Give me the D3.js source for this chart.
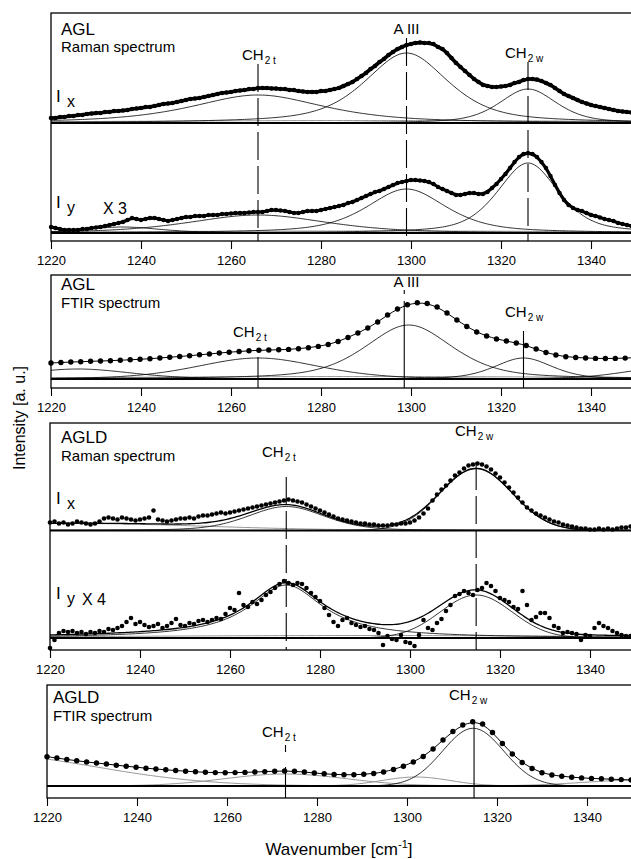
<!DOCTYPE html>
<html><head><meta charset="utf-8">
<script src="https://cdn.jsdelivr.net/npm/d3@7"></script>
<style>
body{margin:0;background:#fff}
svg{display:block}
text{font-family:"Liberation Sans",Arial,sans-serif;fill:#000}
</style>
</head><body>
<svg id="c" width="631" height="859"></svg>
<script>
// ---------------- DATA ----------------
const tickValues = [1220, 1240, 1260, 1280, 1300, 1320, 1340];
const xDomain = [1220, 1350];
const ramanStart = 1220, ramanStep = 1;     // Raman sampling (cm-1)
const ftirStart = 1220, ftirStep = 2.2;     // FTIR sampling (cm-1)

// AGL Raman, I_x
const aglRamanIx = [5,5,6,6,7,7,8,8,9,9.5,
10,10,11,11,12,12,12.5,13,14,14.5,
15,16,16,17,18,19,19.5,20,21,22,
23,24,24.5,25,26,27,28,29,30,30.5,
31,32,32.5,33,34,34,35,35,35,34.5,
34.5,34,34,33,33,32,31.5,31,31,31,
32,32,33,34,35,37,39,41,44,47,
50,54,57,61,64,68,71,74,76,78,
79,80,80.5,80,80,79,76,74,70,65,
60,56,52,48,44,41,38,37,36,36,
36.5,37,38,40,41,43,44,44,43.5,42,
40,38,35,32,29,27,25,23,21,19.5,
18,17,16,15,14,13,12,11.5,11,10.5,
10];
// AGL Raman, I_y (x3)
const aglRamanIy = [6,5,4,3,3,3,3,4,4,5,
5.5,6,7,8,9,10,11,13,15,14,
13,14,15,15,14,13,12,13,14,15,
16,16,17,17,17,18,18,18,19,19,
19.5,20,20,20,20.5,21,21,21,22,23,
23,22.5,22,21,20,20,21,22,22,22,
23,24,25,26,27,28,30,31,33,35,
37,39,41,42,44,46,48,50,51,52,
53,53,52.5,52,51,49,46,44,42,40,
38,38,39,40,40,39,39,41,45,49,
54,59,65,71,76,79,80,79,76,71,
65,57,48,40,33,28,25,23,22,20,
18,17,15.5,14,13,12,10,9,8,7,
6];
// AGL FTIR
const aglFtir = [16,16.5,17,17.3,17.7,18,18.3,18.8,19.2,19.7,
20.3,21,21.8,22.5,23.3,24.2,25,26,26.8,27.5,
28.2,28.7,29,29.2,29.6,30.3,31.3,32.6,34.5,37.5,
41.5,46,51,57,64,70,74.3,76.3,75.5,72,
66,59,52.5,47,43,40,38,36,33.5,30,
26.5,24,22.3,21.5,21,20.6,20.5,20.6,20.9,21.3];
// AGLD Raman, I_x
const agldRamanIx = [8,9,7,8,6,7,9,8,7,6,
7,9,12,13,12,11,13,12,11,10,
11,12,13,20,11,10,9,10,11,12,
12,13,12,14,15,15,16,17,18,17,
18,19,20,21,22,23,24,25,26,27,
28,29,30,31,30,29,28,26,24,22,
20,18,16,14,12,11,10,9,8,7,
7,6,6,5,5,5,6,6,7,7,
8,10,13,17,22,30,36,41,45,50,
55,58,62,65,66,67,66,64,61,57,
53,48,43,38,33,28,23,20,17,15,
13,11,9,8,6,5,4,3,2,2,
1,1,2,1,2,1,2,3,3,4,
5];
// AGLD Raman, I_y (x4)
const agldRamanIy = [-10,-2,5,7,6,7,5,6,4,6,
5,7,6,9,8,10,12,16,20,14,
16,13,11,12,14,10,12,15,19,13,
12,15,14,17,18,16,18,20,19,24,
30,28,45,33,31,36,34,38,43,46,
50,54,57,55,53,55,54,50,45,41,
37,30,23,16,12,18,20,15,13,11,
12,9,8,5,-7,2,-1,-2,3,-4,
-5,-8,3,18,10,8,15,19,27,33,
42,44,47,45,43,48,50,55,52,47,
40,38,36,31,29,47,33,18,21,25,
25,20,12,10,5,6,5,4,-2,3,
2,10,15,12,10,7,5,3,2,2,
1.6];
// AGLD FTIR
const agldFtir = [29.3,28,26.5,25.3,24,23,22,20.8,19.8,18.8,
17.8,17,16.2,15.5,14.8,14.2,13.7,13.4,13.3,13.4,
13.6,14,14.4,14.8,15,14.7,14,13,12.2,11.6,
11.2,11.2,11.7,12.5,14,16.5,19.8,24,29.5,37,
46,54.5,61,64.3,62,53.5,42.5,32,23.5,17.5,
13.3,11,9.7,8.8,8.1,7.6,7.2,6.8,6.4,6.1];

// fitted bands: [centre cm-1, height, half width, Lorentzian fraction]
const aglIxBands   = [[1266,28,17.5,0.7],[1299,70,11,0.6],[1326,34,7.5,0.5]];
const aglIxBack    = [[1290,2.5,70,0]];
const aglIyBands   = [[1236,6,10,0.5],[1266,18,18,0.5],[1299,44,10.5,0.6],[1326,70,8,0.5]];
const aglIyBack    = [[1290,2,70,0]];
const aglFtirBands = [[1226,10,14,0.3],[1266,21,16,0.3],[1299.5,54,11.5,0.5],[1325,21,7.5,0.4],[1358,12,12,0.3]];
const aglFtirBack  = [[1290,2.5,70,0]];
const agldIxBands  = [[1272.5,24,10,0.3],[1314.7,61.7,9.4,0]];
const agldIxBack   = [[1225,7,35,0]];
const agldIyBands  = [[1272.5,53,10,1],[1314.7,43,9.4,0]];
const agldIyBack   = [[1290,2.5,70,0]];
const agldFtirBands= [[1314.7,57.7,8,0]];
const agldFtirBack = [[1205,32,30,0],[1273,12,16,0],[1302,9,9,0],[1352,6,15,0]];

// band assignments (cm-1)
const aglMarks  = [1266, 1299, 1326];
const aglFtirMarks = [1266, 1298.5, 1325];
const agldMarks = [1272.5, 1314.7];
const agldFtirMarks = [1273, 1314.9];

// ---------------- DRAWING ----------------
const svg = d3.select("#c");
const FONT = '"Liberation Sans",Arial,sans-serif';
const band = (v, b) => { const u = (v - b[0]) / b[2]; return b[1] * (b[3] / (1 + u * u) + (1 - b[3]) * Math.exp(-Math.LN2 * u * u)); };
const fine = d3.range(xDomain[0], xDomain[1] + 0.01, 0.5);

function sub(g, x, s) {
  const y = d3.scaleLinear().domain([0, 100]).range([s.base, s.base - 100]);
  const pts = s.data.map((v, i) => [s.start + i * s.step, v]);
  const lineXY = d3.line().x(d => x(d[0])).y(d => y(d[1]));
  s.back.forEach(b => {
    g.append("path").attr("d", lineXY(fine.map(v => [v, band(v, b)])))
      .attr("fill", "none").attr("stroke", "#8a8a8a").attr("stroke-width", 0.9);
  });
  g.append("line").attr("x1", x(xDomain[0])).attr("x2", x(xDomain[1]) + 10)
    .attr("y1", y(0)).attr("y2", y(0)).attr("stroke", "#000").attr("stroke-width", 1.8);
  s.bands.forEach(b => {
    g.append("path").attr("d", lineXY(fine.map(v => [v, band(v, b)])))
      .attr("fill", "none").attr("stroke", "#000").attr("stroke-width", 0.8);
  });
  let fitPath;
  if (s.fit === "sum") {
    fitPath = lineXY(fine.map(v => [v, d3.sum(s.bands.concat(s.back), b => band(v, b))]));
  } else {
    fitPath = d3.line().x(d => x(d[0])).y(d => y(d[1])).curve(d3.curveBasis)(pts);
  }
  g.append("path").attr("d", fitPath).attr("fill", "none").attr("stroke", "#000").attr("stroke-width", s.fitW || 1);
  g.selectAll(null).data(pts).enter().append("circle")
    .attr("cx", d => x(d[0])).attr("cy", d => y(d[1])).attr("r", s.r).attr("fill", "#000");
}

function label(g, txt, xx, yy, size, opts = {}) {
  const t = g.append("text").attr("x", xx).attr("y", yy).attr("font-size", size)
    .attr("text-anchor", opts.anchor || "start").attr("font-family", opts.family || FONT);
  if (opts.weight) t.attr("font-weight", opts.weight);
  t.text(txt);
  return t;
}
function chLabel(g, xx, yy, subTxt) {
  const t = g.append("text").attr("x", xx).attr("y", yy).attr("font-size", 15).attr("font-family", FONT);
  t.append("tspan").text("CH");
  t.append("tspan").attr("font-size", 10).attr("dy", 4).attr("dx", 1).text(subTxt);
}
function intensityLabel(g, xx, yy, sub, factor) {
  g.append("text").attr("x", xx).attr("y", yy).attr("font-size", 17)
    .attr("font-family", '"Liberation Serif","Times New Roman",serif').text("I");
  const t = g.append("text").attr("x", xx + 11).attr("y", yy + 5).attr("font-size", 16).attr("font-family", FONT);
  t.text(sub);
  if (factor) g.append("text").attr("x", xx + factor.dx).attr("y", yy + 6).attr("font-size", 16)
    .attr("font-family", FONT).text(factor.t);
}

const panels = [
  { left: 51, top: 13, bottom: 241, dashed: true,
    subs: [
      { base: 123, start: ramanStart, step: ramanStep, data: aglRamanIx, bands: aglIxBands, back: aglIxBack, r: 2.3, fit: "dots", fitW: 3.6 },
      { base: 233, start: ramanStart, step: ramanStep, data: aglRamanIy, bands: aglIyBands, back: aglIyBack, r: 2.2, fit: "dots", fitW: 3.2 } ],
    marks: aglMarks.map((v, i) => ({ v, y1: [64, 38, 62][i] })) },
  { left: 51, top: 275, bottom: 388, dashed: false,
    subs: [ { base: 379, start: ftirStart, step: ftirStep, data: aglFtir, bands: aglFtirBands, back: aglFtirBack, r: 2.7, fit: "dots" } ],
    marks: aglFtirMarks.map((v, i) => ({ v, y1: [357, 301, 331][i] })) },
  { left: 50, top: 423, bottom: 650, dashed: true,
    subs: [
      { base: 530.5, start: ramanStart, step: ramanStep, data: agldRamanIx, bands: agldIxBands, back: agldIxBack, r: 2.3, fit: "sum", fitW: 1.3 },
      { base: 638, start: ramanStart, step: ramanStep, data: agldRamanIy, bands: agldIyBands, back: agldIyBack, r: 2.3, fit: "sum", fitW: 1.3 } ],
    marks: agldMarks.map((v, i) => ({ v, y1: [477, 462][i] })) },
  { left: 47, top: 685, bottom: 798, dashed: false,
    subs: [ { base: 786, start: ftirStart, step: ftirStep, data: agldFtir, bands: agldFtirBands, back: agldFtirBack, r: 2.7, fit: "dots" } ],
    marks: agldFtirMarks.map((v, i) => ({ v, y1: [767, 720][i] })) }
];

const xs = [];
panels.forEach(p => {
  const g = svg.append("g");
  const x = d3.scaleLinear().domain(xDomain).range([p.left, p.left + 4.5 * (xDomain[1] - xDomain[0])]);
  xs.push(x);
  p.subs.forEach(s => sub(g, x, s));
  g.append("rect").attr("x", p.left).attr("y", p.top).attr("width", 700).attr("height", p.bottom - p.top)
    .attr("fill", "none").attr("stroke", "#000").attr("stroke-width", 1.3);
  p.marks.forEach(m => {
    g.append("line").attr("x1", x(m.v)).attr("x2", x(m.v)).attr("y1", m.y1).attr("y2", p.bottom)
      .attr("stroke", "#000").attr("stroke-width", 1.1)
      .attr("stroke-dasharray", p.dashed ? "28,6" : null);
  });
  const ax = g.append("g").attr("transform", `translate(0,${p.bottom})`)
    .call(d3.axisBottom(x).tickValues(tickValues).tickSize(8).tickPadding(7).tickFormat(d3.format("d")));
  ax.select(".domain").remove();
  ax.selectAll(".tick line").attr("stroke", "#000").attr("stroke-width", 1.1);
  ax.selectAll("text").attr("font-size", 13).attr("font-family", FONT).attr("fill", "#000");
});

// short marker ticks just under labels
svg.append("line").attr("x1", xs[3](agldFtirMarks[0])).attr("x2", xs[3](agldFtirMarks[0]))
  .attr("y1", 745).attr("y2", 752).attr("stroke", "#000").attr("stroke-width", 1.1);
svg.append("line").attr("x1", xs[1](aglFtirMarks[1])).attr("x2", xs[1](aglFtirMarks[1]))
  .attr("y1", 290).attr("y2", 294).attr("stroke", "#000").attr("stroke-width", 1.1);

// ---- panel texts ----
const g = svg.append("g");
label(g, "AGL", 61, 35, 17);
label(g, "Raman spectrum", 61, 52, 15);
label(g, "A III", xs[0](1299), 34, 15, { anchor: "middle" });
chLabel(g, 242, 60, "2 t");
chLabel(g, 505, 58, "2 w");
intensityLabel(g, 56, 102, "x");
intensityLabel(g, 56, 208, "y", { t: "X 3", dx: 47 });

label(g, "AGL", 61, 290, 17);
label(g, "FTIR spectrum", 61, 308, 15);
label(g, "A III", xs[1](1299), 287, 15, { anchor: "middle" });
chLabel(g, 233, 337, "2 t");
chLabel(g, 505, 317, "2 w");

label(g, "AGLD", 61, 443, 17);
label(g, "Raman spectrum", 61, 461, 15);
chLabel(g, 262, 457, "2 t");
chLabel(g, 455, 436, "2 w");
intensityLabel(g, 56, 504, "x");
intensityLabel(g, 56, 599, "y", { t: "X 4", dx: 26 });

label(g, "AGLD", 53, 703, 17);
label(g, "FTIR spectrum", 53, 721, 15);
chLabel(g, 262, 737, "2 t");
chLabel(g, 449, 700, "2 w");

svg.append("text").attr("transform", "translate(25,418) rotate(-90)")
  .attr("text-anchor", "middle").attr("font-size", 16).attr("font-family", FONT).text("Intensity [a. u.]");
const xt = svg.append("text").attr("x", 339).attr("y", 855).attr("text-anchor", "middle")
  .attr("font-size", 17).attr("font-family", FONT);
xt.append("tspan").text("Wavenumber [cm");
xt.append("tspan").attr("font-size", 11).attr("dy", -7).text("-1");
xt.append("tspan").attr("dy", 7).text("]");
</script>
</body></html>
